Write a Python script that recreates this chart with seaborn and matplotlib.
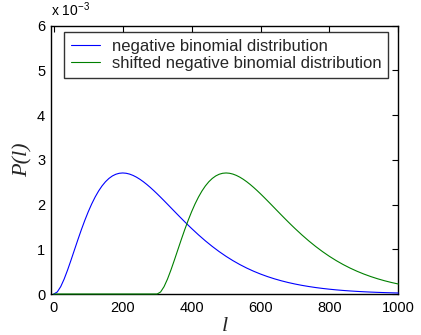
import numpy as np
import pandas as pd
import matplotlib
matplotlib.use("Agg")
import matplotlib.pyplot as plt
import seaborn as sns
from matplotlib.lines import Line2D

# ---- data (P values in units of 1e-3) ----
nb_l = [0, 10, 20, 30, 40, 50, 60, 70, 80, 90, 100, 110, 120, 130, 140,
        150, 160, 170, 180, 190, 200, 210, 220, 230, 240, 250, 260, 270,
        280, 290, 300, 310, 320, 330, 340, 350, 360, 370, 380, 390, 400,
        420, 440, 460, 480, 500, 520, 540, 560, 580, 600, 620, 640, 660,
        680, 700, 720, 740, 760, 780, 800, 820, 840, 860, 880, 900, 920,
        940, 960, 980, 1000]
nb_values = [0.0, 0.0452, 0.1637, 0.3334, 0.5363, 0.7582, 0.9879, 1.2166,
             1.4379, 1.6466, 1.8394, 2.0139, 2.1686, 2.3029, 2.4167, 2.5102,
             2.5843, 2.6398, 2.6778, 2.6997, 2.7067, 2.7002, 2.6814, 2.6519,
             2.6127, 2.5652, 2.5105, 2.4497, 2.3838, 2.3137, 2.2404, 2.1646,
             2.0870, 2.0083, 1.9290, 1.8496, 1.7706, 1.6924, 1.6152, 1.5394,
             1.4653, 1.3226, 1.1884, 1.0635, 0.9481, 0.8422, 0.7458, 0.6585,
             0.5798, 0.5092, 0.4462, 0.3901, 0.3403, 0.2963, 0.2575, 0.2234,
             0.1935, 0.1674, 0.1445, 0.1246, 0.1073, 0.0923, 0.0793, 0.0681,
             0.0584, 0.0500, 0.0428, 0.0365, 0.0312, 0.0266, 0.0227]
shifted_l = [0, 300, 310, 320, 330, 340, 350, 360, 370, 380, 390, 400, 410,
             420, 430, 440, 450, 460, 470, 480, 490, 500, 510, 520, 530, 540,
             550, 560, 570, 580, 590, 600, 610, 620, 630, 640, 650, 660, 670,
             680, 690, 700, 720, 740, 760, 780, 800, 820, 840, 860, 880, 900,
             920, 940, 960, 980, 1000]
shifted_values = [0.0, 0.0, 0.0452, 0.1637, 0.3334, 0.5363, 0.7582, 0.9879,
                  1.2166, 1.4379, 1.6466, 1.8394, 2.0139, 2.1686, 2.3029,
                  2.4167, 2.5102, 2.5843, 2.6398, 2.6778, 2.6997, 2.7067,
                  2.7002, 2.6814, 2.6519, 2.6127, 2.5652, 2.5105, 2.4497,
                  2.3838, 2.3137, 2.2404, 2.1646, 2.0870, 2.0083, 1.9290,
                  1.8496, 1.7706, 1.6924, 1.6152, 1.5394, 1.4653, 1.3226,
                  1.1884, 1.0635, 0.9481, 0.8422, 0.7458, 0.6585, 0.5798,
                  0.5092, 0.4462, 0.3901, 0.3403, 0.2963, 0.2575, 0.2234]
series_names = ["negative binomial distribution",
                "shifted negative binomial distribution"]
series_colors = ["#0000ff", "#008000"]
x_ticks = [0, 200, 400, 600, 800, 1000]
y_ticks = [0, 1, 2, 3, 4, 5, 6]

sns.set_theme(style="white")
plt.rcParams['font.family'] = ['Liberation Sans', 'DejaVu Sans']
plt.rcParams['mathtext.fontset'] = 'custom'
plt.rcParams['mathtext.rm'] = 'Liberation Sans'
plt.rcParams['mathtext.it'] = 'Liberation Sans:italic'

df = pd.DataFrame({
    "l": nb_l + shifted_l,
    "P": nb_values + shifted_values,
    "series": [series_names[0]] * len(nb_l) + [series_names[1]] * len(shifted_l),
})

fig = plt.figure(figsize=(4.21, 3.35), dpi=100)
fig.patch.set_facecolor("white")
ax = fig.add_axes([50.7 / 421, 1 - 294 / 335, 347.6 / 421, 268.3 / 335])

sns.lineplot(data=df, x="l", y="P", hue="series", hue_order=series_names,
             palette=dict(zip(series_names, series_colors)), ax=ax,
             linewidth=0.8, legend=False, estimator=None, sort=False)
for ln in ax.lines:
    ln.set_zorder(3)
    ln.set_clip_on(False)

ax.set_xlim(-9, 1000)
ax.set_ylim(0, 6)
ax.set_xticks(x_ticks)
ax.set_yticks(y_ticks)
ax.set_xticklabels([str(v) for v in x_ticks])
ax.set_yticklabels([str(v) for v in y_ticks])
ax.tick_params(direction="in", top=True, right=True, length=4, width=0.8,
               labelsize=10.5, colors="black", pad=4)
ax.tick_params(axis="x", pad=5)
for sp in ax.spines.values():
    sp.set_visible(True)
    sp.set_color("black")
    sp.set_linewidth(1.0)

ax.set_xlabel("l", fontsize=16, family=["Liberation Serif"], style="italic")
ax.set_ylabel("P(l)", fontsize=16, family=["Liberation Serif"], style="italic")
ax.xaxis.set_label_coords(0.5, -0.085)
ax.yaxis.set_label_coords(-0.053, 0.5)

ax.text(0.0, 1.025, r"x 10$^{-3}$", transform=ax.transAxes, ha="left",
        va="bottom", fontsize=10, color="black")

handles = [Line2D([], [], color=c, linewidth=0.8) for c in series_colors]
leg = ax.legend(handles, series_names, loc="upper left",
                bbox_to_anchor=(0.039, 0.975), fontsize=12, frameon=True,
                fancybox=False, handlelength=1.75, handletextpad=0.7,
                borderpad=0.4, labelspacing=0.12, borderaxespad=0.0)
leg.get_frame().set_edgecolor("black")
leg.get_frame().set_linewidth(1.0)

fig.savefig("out.png", dpi=100, facecolor="white")
